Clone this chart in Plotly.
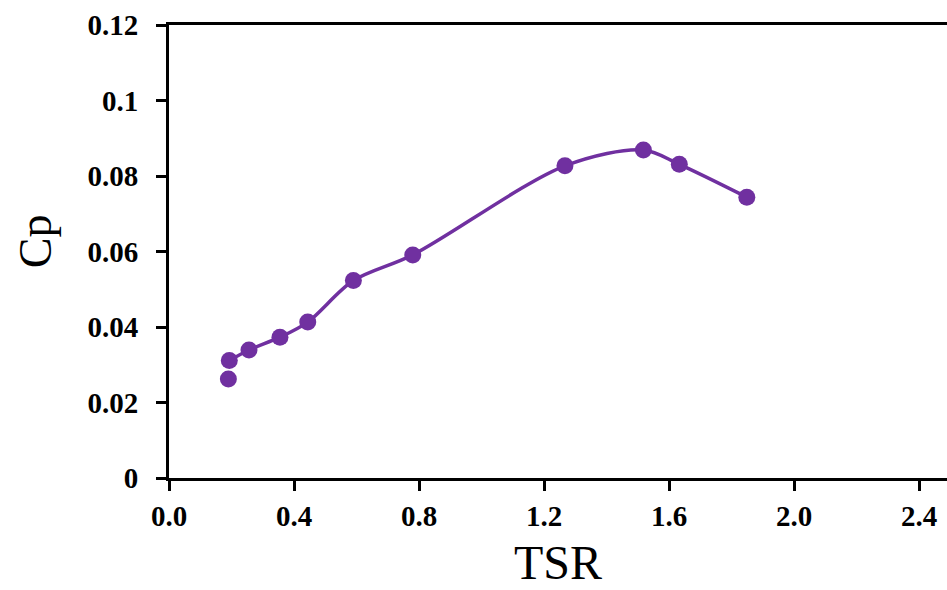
import plotly.graph_objects as go

# Data
tsr = [0.190, 0.193, 0.256, 0.355, 0.444, 0.590, 0.780, 1.267, 1.518, 1.633, 1.849]
cp = [0.0262, 0.0311, 0.0339, 0.0373, 0.0413, 0.0523, 0.0591, 0.0827, 0.0869, 0.0831, 0.0744]

x_ticks = [0.0, 0.4, 0.8, 1.2, 1.6, 2.0, 2.4]
x_ticklabels = ["0.0", "0.4", "0.8", "1.2", "1.6", "2.0", "2.4"]
y_ticks = [0, 0.02, 0.04, 0.06, 0.08, 0.1, 0.12]
y_ticklabels = ["0", "0.02", "0.04", "0.06", "0.08", "0.1", "0.12"]

purple = "#7030A0"
font_family = "Liberation Serif, Times New Roman, serif"

fig = go.Figure()
# smoothed line through the measured points (first isolated point shown as marker only)
fig.add_trace(go.Scatter(
    x=tsr[1:], y=cp[1:], mode="lines+markers",
    line=dict(color=purple, width=3.5, shape="spline", smoothing=0.9),
    marker=dict(color=purple, size=17),
    showlegend=False,
))
fig.add_trace(go.Scatter(
    x=tsr[:1], y=cp[:1], mode="markers",
    marker=dict(color=purple, size=17),
    showlegend=False,
))

fig.update_layout(
    width=947, height=590,
    margin=dict(l=169, r=0, t=25, b=112),
    plot_bgcolor="white", paper_bgcolor="white",
    font=dict(family=font_family, color="black"),
    annotations=[dict(
        text="Cp", xref="paper", yref="paper", x=-0.172, y=0.523,
        xanchor="center", yanchor="middle", textangle=-90, showarrow=False,
        font=dict(family=font_family, size=46, color="black"),
    )],
)
fig.update_xaxes(
    range=[0, 2.4896], tickvals=x_ticks, ticktext=x_ticklabels,
    showgrid=False, zeroline=False,
    showline=True, linecolor="black", linewidth=3, mirror=True,
    ticks="outside", ticklen=10, tickwidth=3, tickcolor="black",
    tickfont=dict(family=font_family, size=29, weight="bold", color="black"),
    title=dict(text="TSR", font=dict(family=font_family, size=48, color="black"), standoff=15),
)
fig.update_yaxes(
    range=[0, 0.12], tickvals=y_ticks, ticktext=y_ticklabels,
    showgrid=False, zeroline=False,
    showline=True, linecolor="black", linewidth=3,
    ticks="outside", ticklen=10, tickwidth=3, tickcolor="black",
    ticklabelstandoff=12,
    tickfont=dict(family=font_family, size=29, weight="bold", color="black"),
)

fig.write_html("out.html", config={"displayModeBar": False},
               post_script="document.body.style.margin='0';")
